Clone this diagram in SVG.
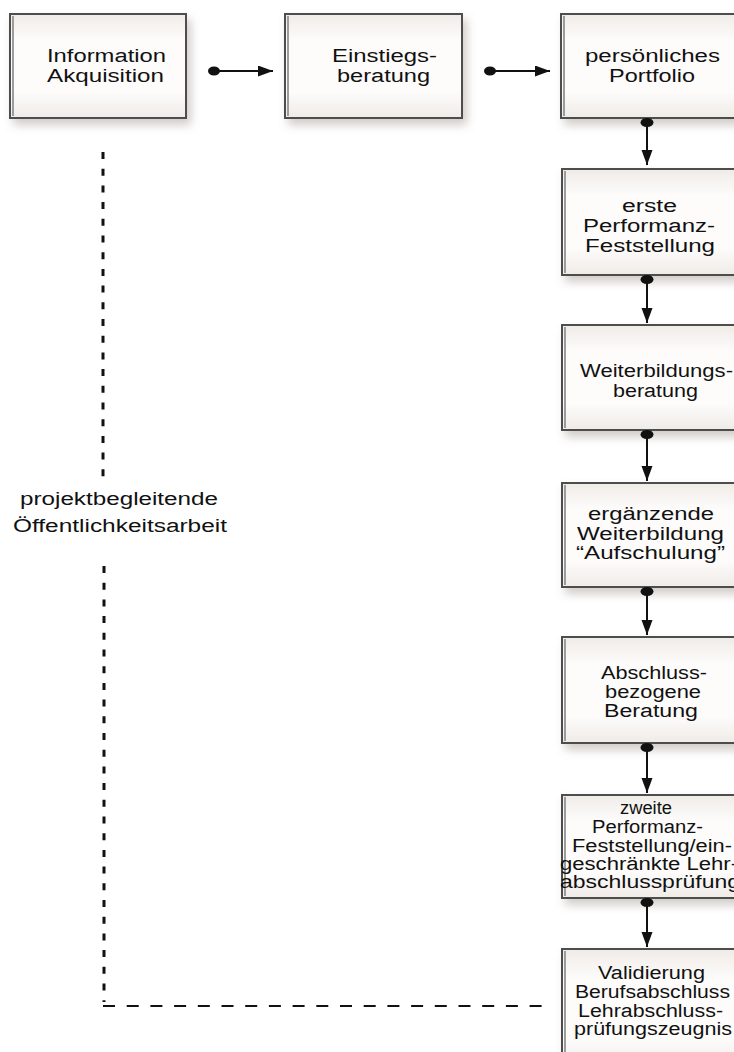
<svg xmlns="http://www.w3.org/2000/svg" width="734" height="1052" viewBox="0 0 734 1052">
<style>
  .box { fill: url(#boxfill); stroke: #4d4d4d; stroke-width: 2; filter: url(#shadow); }
  .edge { stroke: #9c9c9c; stroke-width: 2; fill: none; }
  .t { font-family: "Liberation Sans", Arial, sans-serif; font-size: 18px; fill: #111; }
  .conn { stroke: #111; stroke-width: 2; fill: none; marker-end: url(#head); }
  .dot { fill: #111; }
  .dash { stroke: #111; fill: none; }
</style>
<defs>
  <linearGradient id="boxfill" x1="0" y1="0" x2="0" y2="1">
    <stop offset="0" stop-color="#efebe7"/>
    <stop offset="0.25" stop-color="#fdfcfb"/>
    <stop offset="0.75" stop-color="#fdfcfb"/>
    <stop offset="1" stop-color="#efebe7"/>
  </linearGradient>
  <filter id="shadow" x="-10%" y="-10%" width="130%" height="140%">
    <feDropShadow dx="4" dy="6" stdDeviation="5" flood-color="#7a6e63" flood-opacity="0.35"/>
  </filter>
  <marker id="head" markerUnits="userSpaceOnUse" markerWidth="16" markerHeight="12" refX="15" refY="5.5" orient="auto">
    <path d="M0,0 L15,5.5 L0,11 z" fill="#111"/>
  </marker>
</defs>

<g id="n1">
  <rect class="box" x="10" y="14" width="176" height="104"/>
  <line class="edge" x1="13" y1="16" x2="13" y2="116"/>
  <text class="t" x="47" y="62" textLength="119" lengthAdjust="spacingAndGlyphs">Information</text>
  <text class="t" x="47" y="82" textLength="117" lengthAdjust="spacingAndGlyphs">Akquisition</text>
</g>
<g id="n2">
  <rect class="box" x="285" y="14" width="177" height="104"/>
  <line class="edge" x1="288" y1="16" x2="288" y2="116"/>
  <text class="t" x="332" y="62" textLength="105" lengthAdjust="spacingAndGlyphs">Einstiegs-</text>
  <text class="t" x="337" y="82" textLength="93" lengthAdjust="spacingAndGlyphs">beratung</text>
</g>
<g id="n3">
  <rect class="box" x="561" y="14" width="176" height="104"/>
  <line class="edge" x1="564" y1="16" x2="564" y2="116"/>
  <text class="t" x="585" y="62" textLength="135" lengthAdjust="spacingAndGlyphs">persönliches</text>
  <text class="t" x="609" y="82" textLength="86" lengthAdjust="spacingAndGlyphs">Portfolio</text>
</g>
<g id="n4">
  <rect class="box" x="562" y="169" width="176" height="106"/>
  <line class="edge" x1="565" y1="171" x2="565" y2="273"/>
  <text class="t" x="622" y="212" textLength="55" lengthAdjust="spacingAndGlyphs">erste</text>
  <text class="t" x="583" y="232" textLength="132" lengthAdjust="spacingAndGlyphs">Performanz-</text>
  <text class="t" x="585" y="252" textLength="130" lengthAdjust="spacingAndGlyphs">Feststellung</text>
</g>
<g id="n5">
  <rect class="box" x="562" y="325" width="176" height="105"/>
  <line class="edge" x1="565" y1="327" x2="565" y2="428"/>
  <text class="t" x="580" y="377" textLength="153" lengthAdjust="spacingAndGlyphs">Weiterbildungs-</text>
  <text class="t" x="613" y="397" textLength="85" lengthAdjust="spacingAndGlyphs">beratung</text>
</g>
<g id="n6">
  <rect class="box" x="562" y="483" width="176" height="104"/>
  <line class="edge" x1="565" y1="485" x2="565" y2="585"/>
  <text class="t" x="588" y="520" textLength="126" lengthAdjust="spacingAndGlyphs">ergänzende</text>
  <text class="t" x="577" y="540" textLength="147" lengthAdjust="spacingAndGlyphs">Weiterbildung</text>
  <text class="t" x="576" y="559" textLength="149" lengthAdjust="spacingAndGlyphs">“Aufschulung”</text>
</g>
<g id="n7">
  <rect class="box" x="562" y="637" width="176" height="106"/>
  <line class="edge" x1="565" y1="639" x2="565" y2="741"/>
  <text class="t" x="601" y="679" textLength="106" lengthAdjust="spacingAndGlyphs">Abschluss-</text>
  <text class="t" x="605" y="698" textLength="96" lengthAdjust="spacingAndGlyphs">bezogene</text>
  <text class="t" x="604" y="717" textLength="94" lengthAdjust="spacingAndGlyphs">Beratung</text>
</g>
<g id="n8">
  <rect class="box" x="562" y="795" width="176" height="103"/>
  <line class="edge" x1="565" y1="797" x2="565" y2="896"/>
  <text class="t" x="620" y="814" textLength="52" lengthAdjust="spacingAndGlyphs">zweite</text>
  <text class="t" x="592" y="833" textLength="111" lengthAdjust="spacingAndGlyphs">Performanz-</text>
  <text class="t" x="572" y="852" textLength="160" lengthAdjust="spacingAndGlyphs">Feststellung/ein-</text>
  <text class="t" x="560" y="870" textLength="178" lengthAdjust="spacingAndGlyphs">geschränkte Lehr-</text>
  <text class="t" x="560" y="888" textLength="180" lengthAdjust="spacingAndGlyphs">abschlussprüfung</text>
</g>
<g id="n9">
  <rect class="box" x="562" y="949" width="176" height="120"/>
  <line class="edge" x1="565" y1="951" x2="565" y2="1060"/>
  <text class="t" x="598" y="979" textLength="107" lengthAdjust="spacingAndGlyphs">Validierung</text>
  <text class="t" x="575" y="998" textLength="155" lengthAdjust="spacingAndGlyphs">Berufsabschluss</text>
  <text class="t" x="578" y="1017" textLength="145" lengthAdjust="spacingAndGlyphs">Lehrabschluss-</text>
  <text class="t" x="574" y="1035" textLength="158" lengthAdjust="spacingAndGlyphs">prüfungszeugnis</text>
</g>
<g id="label">
  <text class="t" x="20" y="505" textLength="198" lengthAdjust="spacingAndGlyphs">projektbegleitende</text>
  <text class="t" x="13" y="532" textLength="214" lengthAdjust="spacingAndGlyphs">Öffentlichkeitsarbeit</text>
</g>

<g id="connectors">
  <line class="conn" x1="214" y1="71" x2="273" y2="71"/>
  <ellipse class="dot" cx="214" cy="71" rx="6" ry="4.5"/>
  <line class="conn" x1="490" y1="71" x2="550" y2="71"/>
  <ellipse class="dot" cx="490" cy="71" rx="6" ry="4.5"/>

  <line class="conn" x1="647" y1="121" x2="647" y2="165"/>
  <ellipse class="dot" cx="647" cy="122.5" rx="6.5" ry="4.5"/>
  <line class="conn" x1="647" y1="278" x2="647" y2="323"/>
  <ellipse class="dot" cx="647" cy="279.5" rx="6.5" ry="4.5"/>
  <line class="conn" x1="647" y1="433" x2="647" y2="481"/>
  <ellipse class="dot" cx="647" cy="434.5" rx="6.5" ry="4.5"/>
  <line class="conn" x1="647" y1="590" x2="647" y2="635"/>
  <ellipse class="dot" cx="647" cy="591.5" rx="6.5" ry="4.5"/>
  <line class="conn" x1="647" y1="746" x2="647" y2="793"/>
  <ellipse class="dot" cx="647" cy="747.5" rx="6.5" ry="4.5"/>
  <line class="conn" x1="647" y1="901" x2="647" y2="947"/>
  <ellipse class="dot" cx="647" cy="902.5" rx="6.5" ry="4.5"/>

  <line class="dash" x1="103" y1="152" x2="103" y2="478" stroke-width="3" stroke-dasharray="7 9.7"/>
  <line class="dash" x1="104" y1="566" x2="104" y2="1002" stroke-width="3" stroke-dasharray="7 9.7"/>
  <line class="dash" x1="103" y1="1006" x2="545" y2="1006" stroke-width="2.2" stroke-dasharray="12 11.7"/>
</g>
</svg>
